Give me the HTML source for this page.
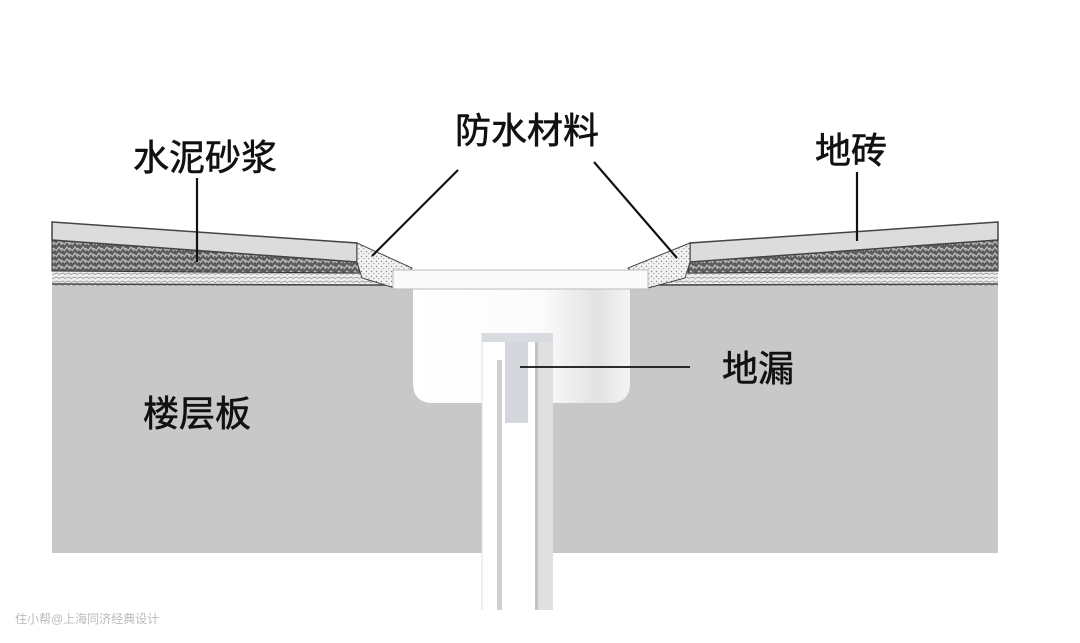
<!DOCTYPE html>
<html><head><meta charset="utf-8"><style>
html,body{margin:0;padding:0;background:#fff;}
svg{display:block}
text{font-family:"Liberation Sans","Noto Sans CJK SC",sans-serif;fill:#111;}
</style></head><body>
<svg width="1080" height="643" viewBox="0 0 1080 643" xmlns="http://www.w3.org/2000/svg">
<defs>
<pattern id="mort" width="8" height="6" patternUnits="userSpaceOnUse">
<rect width="8" height="6" fill="#5c5c5c"/>
<path d="M0 5 L3 1 L6 5 M5 2 L8 4" stroke="#bdbdbd" stroke-width="1.3" fill="none"/>
</pattern>
<pattern id="sand" width="5" height="5" patternUnits="userSpaceOnUse">
<rect width="5" height="5" fill="#f2f2f2"/>
<circle cx="1.5" cy="1.5" r="0.7" fill="#888"/><circle cx="3.8" cy="3.6" r="0.6" fill="#999"/>
</pattern>
<pattern id="thin" width="6" height="4" patternUnits="userSpaceOnUse">
<rect width="6" height="4" fill="#eeeeee"/>
<path d="M0 2 L3 1 L6 3" stroke="#999" stroke-width="0.9" fill="none"/>
</pattern>
<linearGradient id="bowl" x1="0" x2="1" y1="0" y2="0">
<stop offset="0" stop-color="#ffffff"/><stop offset="0.6" stop-color="#fbfbfb"/><stop offset="0.85" stop-color="#e2e2e2"/><stop offset="1" stop-color="#f4f4f4"/>
</linearGradient>
</defs>
<rect x="52" y="284" width="946" height="269" fill="#c8c8c8"/>
<polygon points="52,270 360,272 395,286 52,286" fill="url(#thin)"/>
<line x1="52" y1="284" x2="393" y2="285" stroke="#444" stroke-width="1.5"/>
<polygon points="52,238 357,260 360,273 52,271" fill="url(#mort)" stroke="#333" stroke-width="1"/>
<polygon points="52,222 357,243 357,262 52,240" fill="#dcdcdc" stroke="#444" stroke-width="1.5"/>
<polygon points="357,243 412,268 395,288 362,278 357,262" fill="url(#sand)" stroke="#444" stroke-width="1"/>
<polygon points="998,270 690,272 648,286 998,286" fill="url(#thin)"/>
<line x1="650" y1="285" x2="998" y2="284" stroke="#444" stroke-width="1.5"/>
<polygon points="998,238 690,260 688,273 998,271" fill="url(#mort)" stroke="#333" stroke-width="1"/>
<polygon points="998,222 690,243 690,262 998,240" fill="#dcdcdc" stroke="#444" stroke-width="1.5"/>
<polygon points="690,243 628,268 648,288 685,278 690,262" fill="url(#sand)" stroke="#444" stroke-width="1"/>
<path d="M413 288 L630 288 L630 383 Q630 403 610 403 L433 403 Q413 403 413 383 Z" fill="url(#bowl)"/>
<rect x="393" y="270" width="255" height="19" fill="#fafafa" stroke="#bbb" stroke-width="1"/>
<rect x="482" y="333" width="71" height="277" fill="#ffffff"/>
<rect x="497" y="360" width="5" height="250" fill="#cfcfcf"/>
<rect x="535" y="340" width="18" height="270" fill="#e0e0e0"/>
<rect x="535" y="340" width="3" height="270" fill="#c4c4c4"/>
<rect x="482" y="333" width="71" height="9" fill="#d8dce0"/>
<rect x="505" y="342" width="23" height="81" fill="#d4d8dc"/>
<line x1="482" y1="333" x2="482" y2="610" stroke="#ddd"/>
<g stroke="#111" stroke-width="2.2" fill="none">
<line x1="197" y1="178" x2="197" y2="262"/>
<line x1="458" y1="170" x2="372" y2="256"/>
<line x1="594" y1="162" x2="677" y2="258"/>
<line x1="857" y1="172" x2="857" y2="241"/>
<line x1="520" y1="367" x2="690" y2="367" stroke-width="1.8"/>
</g>
<g style="stroke:#111;stroke-width:0.6">
<text x="133" y="170" font-size="36">水泥砂浆</text>
<text x="455" y="143" font-size="36">防水材料</text>
<text x="815" y="163" font-size="36">地砖</text>
<text x="722" y="381" font-size="36">地漏</text>
<text x="143" y="426" font-size="36">楼层板</text>
</g>
<text x="15" y="623" font-size="12" style="fill:#bbb">住小帮@上海同济经典设计</text>
</svg>
</body></html>
